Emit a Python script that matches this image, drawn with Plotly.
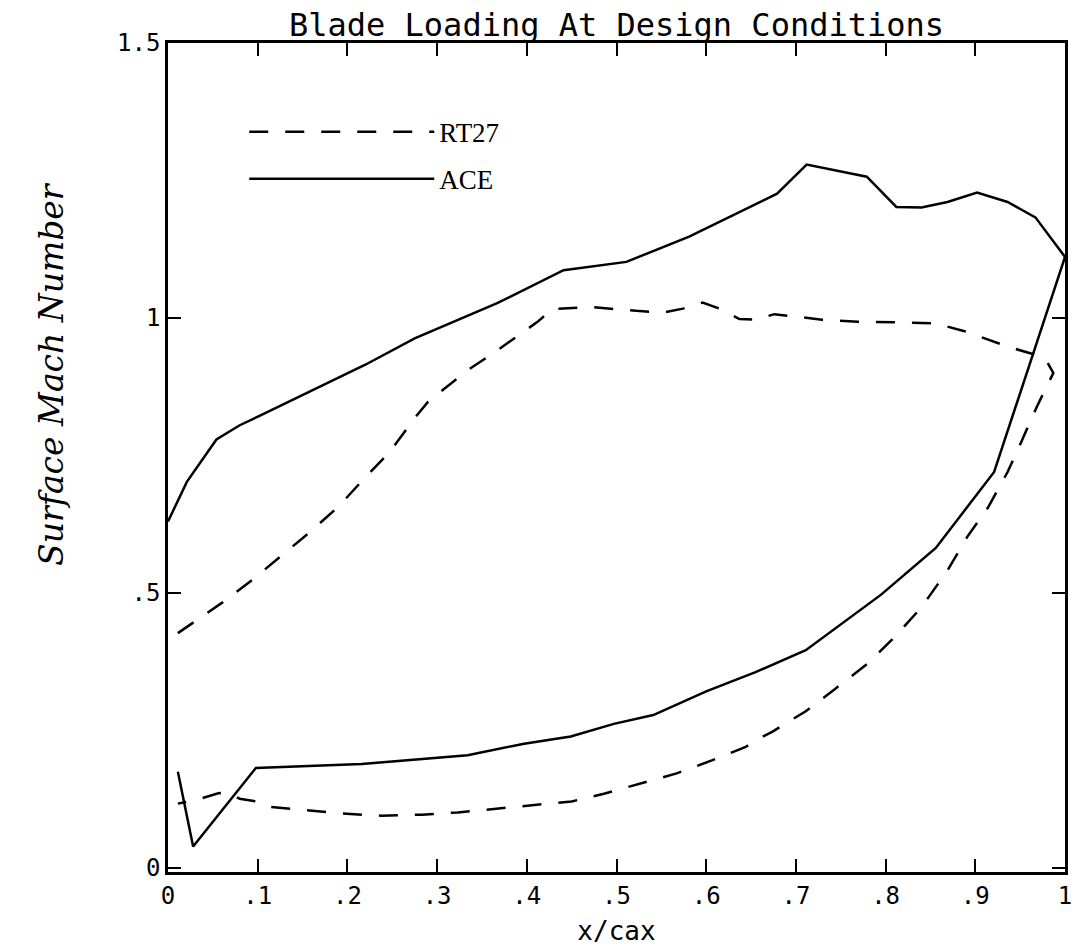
import plotly.graph_objects as go

# RT27 blade: suction side from leading edge to trailing edge, then pressure side back
rt27_x = [0.011, 0.060, 0.094, 0.128, 0.157, 0.190, 0.212, 0.222, 0.246, 0.275, 0.290, 0.334,
          0.360, 0.397, 0.412, 0.428, 0.471, 0.522, 0.552, 0.574, 0.596, 0.615, 0.637, 0.655,
          0.676, 0.729, 0.769, 0.814, 0.856, 0.888, 0.936, 0.965, 0.978, 0.987,
          0.969, 0.950, 0.936, 0.914, 0.891, 0.869, 0.840, 0.810, 0.781, 0.744, 0.711, 0.674,
          0.655, 0.644, 0.607, 0.567, 0.526, 0.486, 0.450, 0.401, 0.360, 0.323, 0.283, 0.238,
          0.194, 0.150, 0.113, 0.098, 0.080, 0.066, 0.056, 0.032, 0.011]
rt27_y = [0.427, 0.482, 0.524, 0.569, 0.609, 0.657, 0.696, 0.714, 0.754, 0.818, 0.848, 0.905,
          0.933, 0.975, 0.993, 1.016, 1.020, 1.013, 1.010, 1.017, 1.028, 1.017, 0.998, 0.997,
          1.007, 0.997, 0.993, 0.992, 0.990, 0.976, 0.948, 0.934, 0.926, 0.900,
          0.840, 0.770, 0.720, 0.655, 0.602, 0.541, 0.474, 0.420, 0.373, 0.326, 0.285, 0.248,
          0.232, 0.220, 0.196, 0.172, 0.153, 0.135, 0.121, 0.113, 0.107, 0.101, 0.097, 0.095,
          0.099, 0.105, 0.111, 0.121, 0.126, 0.137, 0.136, 0.124, 0.117]

# ACE blade: suction side then pressure side back to leading edge
ace_x = [0.000, 0.021, 0.054, 0.080, 0.102, 0.139, 0.220, 0.275, 0.334, 0.367, 0.441, 0.511,
         0.581, 0.655, 0.679, 0.712, 0.779, 0.812, 0.840, 0.869, 0.902, 0.936, 0.967, 1.000,
         0.921, 0.856, 0.795, 0.711, 0.655, 0.600, 0.541, 0.497, 0.449, 0.397,
         0.334, 0.216, 0.098, 0.028, 0.011]
ace_y = [0.630, 0.702, 0.779, 0.805, 0.822, 0.851, 0.915, 0.963, 1.005, 1.027, 1.087, 1.102,
         1.148, 1.208, 1.226, 1.279, 1.257, 1.202, 1.201, 1.211, 1.228, 1.211, 1.183, 1.111,
         0.720, 0.582, 0.497, 0.396, 0.356, 0.321, 0.278, 0.262, 0.239, 0.226,
         0.205, 0.189, 0.182, 0.039, 0.175]

x_ticks = [0, 0.1, 0.2, 0.3, 0.4, 0.5, 0.6, 0.7, 0.8, 0.9, 1.0]
x_ticktext = ["0", ".1", ".2", ".3", ".4", ".5", ".6", ".7", ".8", ".9", "1"]
y_ticks = [0, 0.5, 1.0, 1.5]
y_ticktext = ["0", ".5", "1", "1.5"]

fig = go.Figure()
fig.add_trace(go.Scatter(x=rt27_x, y=rt27_y, mode="lines", name="RT27",
                         legendgroup="a",
                         line=dict(color="black", width=2.5, dash="19px,17px")))
fig.add_trace(go.Scatter(x=ace_x, y=ace_y, mode="lines", name="ACE",
                         legendgroup="b",
                         line=dict(color="black", width=2.5)))

mono = "DejaVu Sans Mono"
axis_common = dict(showline=True, linewidth=2.5, linecolor="black", mirror="ticks",
                   ticks="inside", ticklen=13, tickwidth=2, tickcolor="black",
                   showgrid=False, zeroline=False,
                   tickfont=dict(family=mono, size=24, color="black"))

fig.update_layout(
    width=1079, height=949, autosize=False,
    margin=dict(l=168, r=7, t=43, b=77),
    paper_bgcolor="white", plot_bgcolor="white",
    title=dict(text="Blade Loading At Design Conditions",
               font=dict(family=mono, size=32, color="black"),
               x=0.5, xanchor="center", y=1 - 25 / 949, yanchor="middle",
               xref="paper", yref="container"),
    xaxis=dict(range=[0, 1], tickvals=x_ticks, ticktext=x_ticktext,
               title=dict(text="x/cax", font=dict(family=mono, size=26, color="black"),
                          standoff=14),
               **axis_common),
    yaxis=dict(range=[-0.0073, 1.5], tickvals=y_ticks, ticktext=y_ticktext,
               **axis_common),
    legend=dict(x=0.085, y=0.922, xanchor="left", yanchor="top",
                bgcolor="rgba(0,0,0,0)", itemwidth=185,
                traceorder="grouped", tracegroupgap=9,
                font=dict(family="Liberation Serif", size=27, color="black")),
    showlegend=True,
    annotations=[dict(text="Surface Mach Number", textangle=-90,
                      x=(50 - 168) / 904, y=(872 - 374) / 829,
                      xref="paper", yref="paper", xanchor="center", yanchor="middle",
                      showarrow=False,
                      font=dict(family="DejaVu Serif", size=33, color="black",
                                style="italic"))],
)

fig.write_html("out.html")
